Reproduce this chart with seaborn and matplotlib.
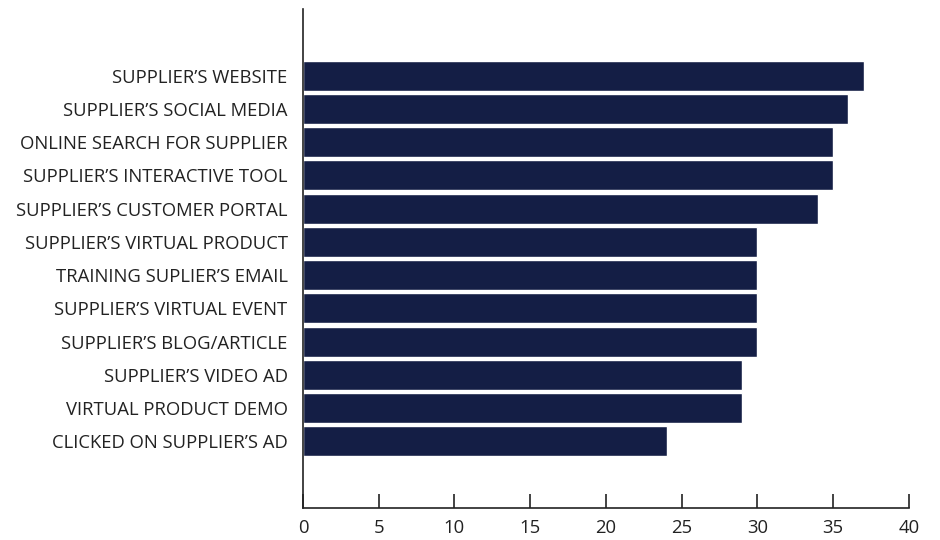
import matplotlib
matplotlib.use("Agg")
import matplotlib.pyplot as plt
import pandas as pd
import seaborn as sns

# chart data
channels = [
    "SUPPLIER\u2019S WEBSITE",
    "SUPPLIER\u2019S SOCIAL MEDIA",
    "ONLINE SEARCH FOR SUPPLIER",
    "SUPPLIER\u2019S INTERACTIVE TOOL",
    "SUPPLIER\u2019S CUSTOMER PORTAL",
    "SUPPLIER\u2019S VIRTUAL PRODUCT",
    "TRAINING SUPLIER\u2019S EMAIL",
    "SUPPLIER\u2019S VIRTUAL EVENT",
    "SUPPLIER\u2019S BLOG/ARTICLE",
    "SUPPLIER\u2019S VIDEO AD",
    "VIRTUAL PRODUCT DEMO",
    "CLICKED ON SUPPLIER\u2019S AD",
]
values = [37, 36, 35, 35, 34, 30, 30, 30, 30, 29, 29, 24]
x_ticks = [0, 5, 10, 15, 20, 25, 30, 35, 40]

df = pd.DataFrame({"channel": channels, "value": values})

sns.set_style("white")
plt.rcParams['font.family'] = ['Open Sans', 'DejaVu Sans']

fig = plt.figure(figsize=(9.4, 5.4), dpi=100)
ax = fig.add_axes([0.3223, 0.0593, 0.6447, 0.924])

sns.barplot(data=df, x="value", y="channel", orient="h", color="#141E45",
            width=0.9, saturation=1, ax=ax)

ax.set_xlim(0, 40)
ax.set_ylim(13.0, -2.0)
ax.set_xticks(x_ticks)
ax.set_xlabel("")
ax.set_ylabel("")

for side in ["top", "right"]:
    ax.spines[side].set_visible(False)
for side in ["left", "bottom"]:
    ax.spines[side].set_color("#222222")
    ax.spines[side].set_linewidth(1.2)

# ticks point up into the plot from the bottom axis
ax.tick_params(axis="x", bottom=True, direction="in", length=10, width=1.2,
               color="#222222", labelsize=13.3, labelcolor="#222222", pad=8)
ax.tick_params(axis="y", left=False, length=0, labelsize=13.3,
               labelcolor="#222222", pad=11)

fig.savefig("out.png", dpi=100)
